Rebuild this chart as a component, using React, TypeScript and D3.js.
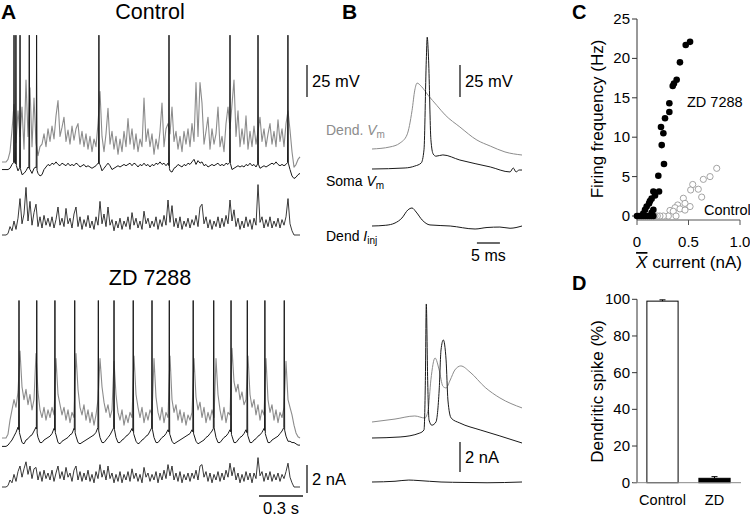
import React from 'react';
import * as d3 from 'd3';

const FONT = '"Liberation Sans", Arial, Helvetica, sans-serif';
const GRAY = '#8c8c8c';
const INK = '#1a1a1a';

// ---------- Panel A: sampled traces (sample interval in seconds) ----------
const SAMPLE_DT = 0.01364;

const ctrlDendVm = [
  0, 0, 0, 2, 8, 25, 45, 15, 40, 20,
  43, 10, 64, 20, 58, 12, 50, 15, 5, 12,
  14, 22, 12, 26, 16, 28, 18, 36, 48, 20,
  27, 35, 16, 25, 14, 28, 17, 26, 30, 14,
  24, 12, 22, 10, 20, 8, 18, 12, 30, 55,
  20, 8, 22, 42, 14, 24, 10, 20, 6, 18,
  8, 24, 12, 34, 14, 26, 10, 22, 8, 18,
  12, 50, 16, 26, 12, 22, 6, 18, 10, 24,
  46, 12, 26, 30, 22, 43, 16, 24, 10, 20,
  8, 24, 14, 26, 12, 30, 16, 62, 20, 62,
  46, 14, 24, 35, 10, 26, 14, 22, 43, 12,
  20, 8, 30, 43, 26, 45, 64, 20, 40, 12,
  26, 14, 36, 10, 24, 12, 28, 14, 24, 35,
  16, 26, 12, 22, 30, 14, 24, 12, 33, 16,
  26, 12, 30, 40, 25, 8, -4, -2, 2, 4,
];

const ctrlSomaVm = [
  -2, -2, -2, -2, -1, 2, 4, 2, -3, 0,
  -6, -5, -3, 0, -2, -5, -1, 0, -5, -7,
  -6, -2, 0, 2, 1, 3, 2, 4, 2, 1,
  3, 2, 1, 3, 1, 2, 1, 3, 2, 0,
  1, 2, 0, 1, 0, -1, 0, 1, 3, 2,
  -3, -1, 1, 3, 1, -2, -1, 0, 1, 0,
  1, 2, 1, 2, 3, 1, 3, 2, 0, 2,
  1, 3, 1, 2, 0, 2, 1, 3, 2, 4,
  2, 3, 1, 3, -3, -4, -1, 0, 2, 1,
  0, 2, 1, 3, 2, 4, 6, 2, 5, 3,
  4, 1, 2, 0, 1, 2, 1, 2, 3, 1,
  2, 1, 3, 2, 4, -2, -1, 0, 1, 0,
  1, 0, 2, 1, 3, 1, 2, 0, 3, -1,
  0, 1, 0, 1, 2, 3, 2, 4, 2, 1,
  2, 1, 2, 4, -2, -7, -9, -8, -6, -5,
];
const ctrlSpikeTimes = [0.082, 0.095, 0.123, 0.186, 0.236, 0.661, 1.139, 1.555, 1.746, 1.950];
const CTRL_SPIKE_PEAK = 103;

const ctrlIinj = [
  0, 0, 0, 0.1, 0.6, 0.3, 1.0, 0.4, 1.2, 2.6,
  0.8, 1.5, 3.4, 1.0, 2.4, 0.7, 1.6, 2.2, 0.6, 1.3,
  0.5, 1.4, 0.7, 1.2, 0.6, 1.3, 0.5, 1.1, 2.0, 0.7,
  1.2, 0.6, 1.9, 0.8, 1.2, 0.5, 1.5, 2.0, 0.6, 1.3,
  0.4, 1.1, 0.6, 1.4, 0.5, 1.0, 0.4, 1.3, 0.7, 2.4,
  0.8, 1.5, 0.6, 2.0, 0.7, 1.1, 0.3, 1.0, 0.5, 1.2,
  0.4, 1.0, 0.6, 1.3, 0.4, 1.6, 0.7, 1.2, 0.5, 1.0,
  0.4, 1.7, 0.8, 1.2, 0.5, 1.0, 0.6, 1.3, 0.4, 1.1,
  0.6, 1.4, 0.7, 2.5, 0.9, 2.1, 0.6, 1.2, 0.5, 1.3,
  0.4, 1.0, 0.6, 1.2, 0.5, 1.1, 0.7, 1.4, 0.6, 2.0,
  2.2, 0.8, 1.3, 0.5, 1.1, 0.4, 1.0, 0.6, 1.3, 0.5,
  1.2, 0.6, 1.4, 0.8, 2.5, 1.0, 1.8, 0.6, 1.2, 0.4,
  1.0, 0.5, 1.3, 0.6, 1.1, 0.4, 1.2, 0.7, 3.6, 0.9,
  1.3, 0.5, 1.1, 0.6, 1.3, 0.5, 1.0, 0.6, 1.2, 0.5,
  1.1, 0.7, 1.3, 2.6, 0.8, 0.3, 0, 0, 0, 0,
];

const zdDendVm = [
  0, 0, 0, 3, 14, 22, 30, 24, 36, 68,
  40, 30, 38, 26, 34, 22, 30, 66, 36, 22,
  16, 24, 14, 22, 16, 24, 18, 62, 34, 26,
  18, 24, 14, 22, 12, 20, 16, 66, 38, 24,
  18, 26, 14, 22, 12, 20, 10, 18, 30, 62,
  40, 28, 20, 26, 16, 22, 60, 34, 20, 14,
  22, 10, 18, 12, 20, 16, 64, 34, 24, 16,
  24, 12, 20, 14, 22, 18, 62, 32, 20, 14,
  24, 12, 20, 16, 64, 30, 20, 26, 14, 22,
  12, 20, 10, 18, 14, 20, 62, 32, 22, 28,
  16, 24, 12, 20, 14, 22, 16, 62, 34, 22,
  14, 24, 12, 20, 18, 70, 44, 36, 42, 30,
  36, 26, 30, 64, 34, 24, 30, 18, 26, 14,
  22, 18, 62, 30, 20, 26, 14, 22, 12, 20,
  16, 24, 60, 30, 24, 18, 10, 4, 1, 0,
];

const zdSomaVm = [
  -5, -5, -5, -4, -2, 0, 3, 6, 10, 4,
  -2, -3, 0, 1, 3, 4, 7, 10, 2, -2,
  -2, 0, 1, 2, 3, 5, 9, 4, -2, -3,
  -1, 0, 1, 2, 4, 5, 9, 3, -2, -3,
  -2, -1, 0, 1, 2, 3, 4, 6, 10, 2,
  -2, -2, 0, 2, 4, 7, 10, 2, -2, -2,
  0, 1, 3, 4, 6, 9, 4, -1, -3, -2,
  0, 1, 3, 4, 7, 10, 2, -2, -2, 0,
  2, 3, 5, 8, 4, -1, -3, -2, -1, 0,
  1, 2, 3, 4, 5, 8, 4, -1, -3, -2,
  -1, 0, 2, 3, 5, 7, 10, 2, -2, -2,
  0, 2, 3, 5, 8, 3, -2, -2, 0, 2,
  3, 5, 8, 3, -2, -2, 0, 1, 3, 4,
  6, 9, 3, -2, -2, 0, 1, 2, 3, 5,
  7, 10, 3, -1, -1, -2, -2, -3, -4, -4,
];
const zdSpikeTimes = [0.116, 0.237, 0.361, 0.496, 0.657, 0.764, 0.895, 1.023, 1.141, 1.304, 1.444, 1.562, 1.673, 1.793, 1.925];
const ZD_SPIKE_PEAK = 109;

const zdIinj = [
  0, 0, 0, 0.1, 0.5, 0.3, 0.9, 0.4, 1.1, 1.5,
  0.7, 1.3, 1.8, 0.9, 1.5, 0.6, 1.3, 1.4, 0.5, 1.1,
  0.4, 1.2, 0.6, 1.0, 0.5, 1.2, 0.4, 1.0, 1.5, 0.6,
  1.1, 0.5, 1.4, 0.7, 1.0, 0.4, 1.2, 1.5, 0.5, 1.1,
  0.4, 1.0, 0.5, 1.2, 0.4, 0.9, 0.3, 1.1, 0.6, 1.6,
  0.7, 1.2, 0.5, 1.5, 0.6, 1.0, 0.3, 0.9, 0.4, 1.1,
  0.3, 0.9, 0.5, 1.1, 0.4, 1.3, 0.6, 1.0, 0.4, 0.9,
  0.3, 1.4, 0.7, 1.0, 0.4, 0.9, 0.5, 1.1, 0.3, 1.0,
  0.5, 1.2, 0.6, 1.6, 0.8, 1.5, 0.5, 1.0, 0.4, 1.1,
  0.3, 0.9, 0.5, 1.0, 0.4, 1.0, 0.6, 1.2, 0.5, 1.5,
  1.6, 0.7, 1.1, 0.4, 1.0, 0.3, 0.9, 0.5, 1.1, 0.4,
  1.0, 0.5, 1.2, 0.7, 1.7, 0.8, 1.4, 0.5, 1.0, 0.3,
  0.9, 0.4, 1.1, 0.5, 1.0, 0.3, 1.0, 0.6, 2.1, 0.8,
  1.1, 0.4, 1.0, 0.5, 1.1, 0.4, 0.9, 0.5, 1.0, 0.4,
  0.9, 0.6, 1.1, 1.7, 0.7, 0.3, 0, 0, 0, 0,
];

// ---------- Panel B: single events, [time ms, value] ----------
const bCtrlDend = [[0, 0], [3.9, 1.6], [6.1, 4.7], [7.6, 11], [8.7, 30], [9.3, 46], [9.8, 51.5], [10.7, 49], [12.2, 42], [14.1, 34], [15.9, 26.6], [19.1, 17.2], [22.8, 7], [25.7, 2.3], [28.9, -2.3], [32.6, -4.7]];
const bCtrlSoma = [[0, 0], [7.2, 0.8], [9.3, 2.3], [10.7, 4.7], [11.3, 15], [11.8, 85], [12.0, 103], [12.3, 85], [12.8, 23], [13.3, 11.7], [13.9, 10], [15.4, 11], [19.1, 7], [25.7, 1.6], [30, -2.3], [30.7, 0.8], [31.3, -2.3], [32, -0.8], [32.6, -0.8]];
const bCtrlIinj = [[0, 0], [3, 0.05], [5, 0.2], [6.5, 0.53], [7.8, 1.07], [8.7, 1.2], [9.6, 0.93], [10.9, 0.4], [12.6, 0.07], [17, 0], [22.4, -0.2], [25, -0.1], [27.8, -0.07], [30, -0.15], [32.6, 0]];
const bZdDend = [[0, 0], [5, 2.3], [9.3, 4.7], [11.5, 3.1], [12.2, 9.4], [12.8, 33], [13.7, 50], [14.6, 40.6], [15.4, 28], [16.1, 26.6], [17, 32.8], [18, 40.6], [19.3, 43.8], [21.3, 39], [24.6, 27], [27.8, 18.8], [32.6, 11]];
const bZdSoma = [[0, 0], [6.1, 0.8], [10.4, 3.9], [11.3, 6.3], [11.6, 45], [11.8, 104.7], [12.1, 45], [12.4, 14], [13, 10], [13.9, 12.5], [14.6, 37.5], [15, 68.8], [15.5, 76.6], [16.1, 61], [16.5, 29.7], [17.2, 15.6], [19.1, 11.7], [23.5, 6.3], [27.8, 1.6], [32.6, -3.9]];
const bZdIinj = [[0, 0], [5, 0.05], [8, 0.13], [10, 0.1], [15, 0], [20, -0.03], [25, -0.05], [32.6, 0]];

// ---------- Panel C ----------
const cZdPoints = [
  [0.515, 22.1], [0.473, 21.7], [0.417, 19.5], [0.385, 17.3], [0.359, 16.8], [0.347, 16.5],
  [0.314, 14.3], [0.314, 13.2], [0.272, 12.4], [0.233, 11.3], [0.256, 10.5], [0.240, 9.0],
  [0.262, 6.6], [0.207, 5.1], [0.214, 3.1], [0.159, 3.1], [0.175, 2.6], [0.142, 2.2],
  [0.126, 1.9], [0.117, 1.6], [0.094, 1.2], [0.078, 0.8], [0.159, 0.8], [0.142, 0.4],
  [0.061, 0.3], [0.0, 0], [0.02, 0], [0.04, 0], [0.06, 0], [0.08, 0], [0.10, 0],
  [0.12, 0], [0.14, 0], [0.16, 0],
];
const cCtrlPoints = [
  [0.774, 6.05], [0.709, 5.0], [0.644, 4.65], [0.541, 4.0], [0.521, 3.3], [0.595, 3.4],
  [0.628, 2.4], [0.450, 2.25], [0.466, 1.6], [0.395, 1.4], [0.369, 1.05], [0.515, 1.2],
  [0.417, 0.9], [0.466, 0.75], [0.320, 0.7], [0.352, 0.6], [0.379, 0], [0.304, 0],
  [0.256, 0], [0.223, 0], [0.197, 0], [0.175, 0],
];
const cTicksY = [0, 5, 10, 15, 20, 25];
const cTicksX = [0, 0.5, 1.0];

// ---------- Panel D ----------
const dCategories = ['Control', 'ZD'];
const dMeans = [99, 2.4];
const dErrors = [0.7, 0.9];
const dTicksY = [0, 20, 40, 60, 80, 100];

// ---------- helpers ----------
type P = [number, number];
const sampled = (values: number[]): P[] => values.map((v, i) => [i * SAMPLE_DT, v]);

function withSpikes(values: number[], spikes: number[], peak: number): P[] {
  const w = SAMPLE_DT * 0.2;
  const at = (t: number) => {
    const f = t / SAMPLE_DT;
    const i0 = Math.max(0, Math.min(values.length - 1, Math.floor(f)));
    const i1 = Math.min(values.length - 1, i0 + 1);
    const a = Math.max(0, Math.min(1, f - i0));
    return values[i0] * (1 - a) + values[i1] * a;
  };
  const pts = sampled(values).filter(([t]) => spikes.every((s) => Math.abs(t - s) > w));
  spikes.forEach((s) => {
    pts.push([s - w, at(s - w)], [s, peak], [s + w, at(s + w)]);
  });
  return pts.sort((a, b) => a[0] - b[0]);
}

const xA = d3.scaleLinear().domain([0, 149 * SAMPLE_DT]).range([2, 300]);
const mvScale = (rest: number) => d3.scaleLinear().domain([0, 25]).range([rest, rest - 32]);
const naScaleA = (rest: number) => d3.scaleLinear().domain([0, 2]).range([rest, rest - 28]);

const xB = d3.scaleLinear().domain([0, 32.6]).range([372, 522]);
const naScaleB = (rest: number) => d3.scaleLinear().domain([0, 2]).range([rest, rest - 30]);

function pathOf(pts: P[] | number[][], x: d3.ScaleLinear<number, number>, y: d3.ScaleLinear<number, number>, curve: d3.CurveFactory = d3.curveLinear) {
  return d3.line<number[]>().x((d) => x(d[0])).y((d) => y(d[1])).curve(curve)(pts as number[][]) || '';
}

const Trace = ({ d, color, w = 1 }: { d: string; color: string; w?: number }) => (
  <path d={d} fill="none" stroke={color} strokeWidth={w} strokeLinejoin="round" />
);

function PanelA() {
  const cD = mvScale(162), cS = mvScale(167), cI = naScaleA(235);
  const zD = mvScale(438), zS = mvScale(440), zI = naScaleA(487);
  const mvBar = mvScale(97);
  const naBar = naScaleA(493);
  const tEnd = xA(149 * SAMPLE_DT) + 3;
  const tStart = tEnd - (xA(0.3) - xA(0));
  return (
    <g>
      <text x={1} y={19} fontSize={21} fontWeight="bold">A</text>
      <text x={150} y={19} fontSize={21.5} textAnchor="middle">Control</text>
      <Trace d={pathOf(sampled(ctrlDendVm), xA, cD)} color={GRAY} w={1.1} />
      <Trace d={pathOf(withSpikes(ctrlSomaVm, ctrlSpikeTimes, CTRL_SPIKE_PEAK), xA, cS)} color={INK} />
      <Trace d={pathOf(sampled(ctrlIinj), xA, cI)} color="#222" w={0.9} />
      <line x1={307} x2={307} y1={mvBar(0)} y2={mvBar(25)} stroke={INK} strokeWidth={1.3} />
      <text x={312} y={87} fontSize={16.5}>25 mV</text>

      <text x={150} y={285} fontSize={21.5} textAnchor="middle">ZD 7288</text>
      <Trace d={pathOf(sampled(zdDendVm), xA, zD)} color={GRAY} w={1.1} />
      <Trace d={pathOf(withSpikes(zdSomaVm, zdSpikeTimes, ZD_SPIKE_PEAK), xA, zS)} color={INK} />
      <Trace d={pathOf(sampled(zdIinj), xA, zI)} color="#222" w={0.9} />
      <line x1={307} x2={307} y1={naBar(0)} y2={naBar(2)} stroke={INK} strokeWidth={1.3} />
      <text x={312} y={485} fontSize={16.5}>2 nA</text>
      <line x1={tStart} x2={tEnd} y1={496} y2={496} stroke={INK} strokeWidth={1.3} />
      <text x={(tStart + tEnd) / 2} y={514} fontSize={16.5} textAnchor="middle">0.3 s</text>
    </g>
  );
}

function PanelB() {
  const cD = mvScale(149), cS = mvScale(169), cI = naScaleB(226);
  const zD = mvScale(422), zS = mvScale(438), zI = naScaleB(482);
  const mvBar = mvScale(97);
  const naBar = naScaleB(472);
  const c = d3.curveMonotoneX;
  return (
    <g>
      <text x={342} y={19} fontSize={21} fontWeight="bold">B</text>
      <Trace d={pathOf(bCtrlDend, xB, cD, c)} color={GRAY} />
      <Trace d={pathOf(bCtrlSoma, xB, cS, c)} color={INK} />
      <Trace d={pathOf(bCtrlIinj, xB, cI, c)} color={INK} />
      <line x1={460} x2={460} y1={mvBar(0)} y2={mvBar(25)} stroke={INK} strokeWidth={1.3} />
      <text x={465} y={87} fontSize={16.5}>25 mV</text>
      <text x={326} y={135} fontSize={14} fill={GRAY}>Dend. <tspan fontStyle="italic">V</tspan><tspan fontSize={10} dy={3}>m</tspan></text>
      <text x={326} y={186} fontSize={14}>Soma <tspan fontStyle="italic">V</tspan><tspan fontSize={10} dy={3}>m</tspan></text>
      <text x={326} y={241} fontSize={14}>Dend <tspan fontStyle="italic">I</tspan><tspan fontSize={10} dy={3}>inj</tspan></text>
      <line x1={xB(22.8)} x2={xB(27.8)} y1={243} y2={243} stroke={INK} strokeWidth={1.3} />
      <text x={xB(25.3)} y={261} fontSize={16} textAnchor="middle">5 ms</text>

      <Trace d={pathOf(bZdDend, xB, zD, c)} color={GRAY} />
      <Trace d={pathOf(bZdSoma, xB, zS, c)} color={INK} />
      <Trace d={pathOf(bZdIinj, xB, zI, c)} color={INK} />
      <line x1={460} x2={460} y1={naBar(0)} y2={naBar(2)} stroke={INK} strokeWidth={1.3} />
      <text x={465} y={463} fontSize={16.5}>2 nA</text>
    </g>
  );
}

function PanelC() {
  const x = d3.scaleLinear().domain([0, 1]).range([637, 740]);
  const y = d3.scaleLinear().domain([0, 25]).range([216, 19]);
  const axisY = 220;
  return (
    <g>
      <text x={572} y={19} fontSize={20} fontWeight="bold">C</text>
      <line x1={x(0)} x2={x(0)} y1={y(25)} y2={axisY} stroke="#333" />
      {cTicksY.map((t) => (
        <g key={t}>
          <line x1={x(0) - 5} x2={x(0)} y1={y(t)} y2={y(t)} stroke="#333" />
          <text x={x(0) - 7} y={y(t) + 5} fontSize={15} textAnchor="end">{t}</text>
        </g>
      ))}
      <line x1={x(0)} x2={x(1)} y1={axisY} y2={axisY} stroke="#555" />
      {cTicksX.map((t) => (
        <g key={t}>
          <line x1={x(t)} x2={x(t)} y1={axisY} y2={axisY + 5} stroke="#555" />
          <text x={x(t)} y={247} fontSize={15} textAnchor="middle">{t === 0 ? '0' : t.toFixed(1)}</text>
        </g>
      ))}
      {cCtrlPoints.map((p, i) => (
        <circle key={'c' + i} cx={x(p[0])} cy={y(p[1])} r={3.1} fill="white" stroke="#9a9a9a" strokeWidth={0.9} />
      ))}
      {cZdPoints.map((p, i) => (
        <circle key={'z' + i} cx={x(p[0])} cy={y(p[1])} r={3.3} fill="#000" />
      ))}
      <text x={687} y={107} fontSize={14.5}>ZD 7288</text>
      <text x={704} y={215} fontSize={14.5}>Control</text>
      <text x={689} y={268} fontSize={17} textAnchor="middle">
        <tspan fontStyle="italic" style={{ textDecoration: 'overline' }}>X</tspan> current (nA)
      </text>
      <text transform={`translate(603, ${119}) rotate(-90)`} fontSize={17} textAnchor="middle">Firing frequency (Hz)</text>
    </g>
  );
}

function PanelD() {
  const x = d3.scaleBand<string>().domain(dCategories).range([637, 740]).paddingInner(0.4).paddingOuter(0.19);
  const y = d3.scaleLinear().domain([0, 100]).range([482.7, 299.3]);
  return (
    <g>
      <text x={572} y={290} fontSize={20} fontWeight="bold">D</text>
      <line x1={637} x2={637} y1={y(100)} y2={y(0)} stroke="#333" />
      {dTicksY.map((t) => (
        <g key={t}>
          <line x1={632} x2={637} y1={y(t)} y2={y(t)} stroke="#333" />
          <text x={630} y={y(t) + 5} fontSize={15} textAnchor="end">{t}</text>
        </g>
      ))}
      {dCategories.map((c, i) => {
        const bx = x(c) as number;
        const bw = x.bandwidth();
        const cx = bx + bw / 2;
        return (
          <g key={c}>
            <rect x={bx} y={y(dMeans[i])} width={bw} height={y(0) - y(dMeans[i])}
              fill={i === 0 ? 'white' : '#000'} stroke="#000" strokeWidth={1} />
            <line x1={cx} x2={cx} y1={y(dMeans[i])} y2={y(dMeans[i] + dErrors[i])} stroke="#000" />
            <line x1={cx - 3} x2={cx + 3} y1={y(dMeans[i] + dErrors[i])} y2={y(dMeans[i] + dErrors[i])} stroke="#000" />
            <text x={cx} y={505} fontSize={14.5} textAnchor="middle">{c}</text>
          </g>
        );
      })}
      <line x1={633} x2={741} y1={y(0)} y2={y(0)} stroke="#888" />
      <text transform={`translate(603, ${391.5}) rotate(-90)`} fontSize={17} textAnchor="middle">Dendritic spike (%)</text>
    </g>
  );
}

export default function App() {
  return (
    <svg width={750} height={516} viewBox="0 0 750 516"
      style={{ position: 'absolute', left: 0, top: 0, background: 'white' }}
      fontFamily={FONT}>
      <rect width={750} height={516} fill="white" />
      <PanelA />
      <PanelB />
      <PanelC />
      <PanelD />
    </svg>
  );
}
